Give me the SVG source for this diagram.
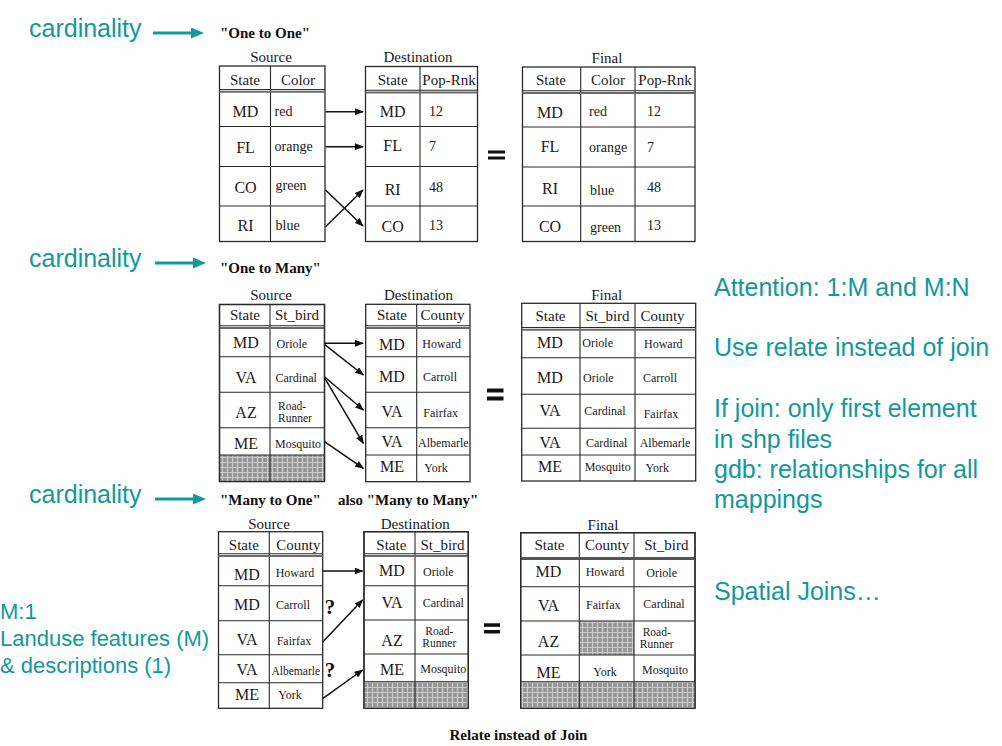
<svg xmlns="http://www.w3.org/2000/svg" width="1002" height="746" viewBox="0 0 1002 746">
<defs>
<style>
.tl{font-family:"Liberation Sans",Arial,sans-serif;fill:#13989c;font-size:25px}
.tls{font-family:"Liberation Sans",Arial,sans-serif;fill:#13989c;font-size:22px}
.sf{font-family:"Liberation Serif","Times New Roman",serif;fill:#1a1a1a}
.tt{font-family:"Liberation Serif","Times New Roman",serif;fill:#111;font-size:15px;font-weight:bold}
.lb{font-size:15px}
.h{font-size:15px}
.c{font-size:16px}
.v{font-size:14px}
.s{font-size:12px}
.r{font-size:11.5px}
.m{text-anchor:middle}
.tb{fill:#fff;stroke:#2a2a2a;stroke-width:1.3}
.ln{stroke:#2a2a2a;stroke-width:1.1;fill:none}
.hd{stroke:#6a6a6a;stroke-width:2;fill:none}
.ht{fill:url(#hatch)}
.ar{stroke:#111;stroke-width:1.5;fill:none;marker-end:url(#ah)}
.ta{stroke:#13989c;stroke-width:3;fill:none;marker-end:url(#tah)}
.eq{fill:#111}
.q{font-family:"Liberation Serif","Times New Roman",serif;fill:#111;font-size:21px;font-weight:bold}
</style>
<marker id="ah" markerWidth="9" markerHeight="7" refX="8" refY="3.5" orient="auto" markerUnits="userSpaceOnUse"><path d="M0,0 L9,3.5 L0,7 z" fill="#111"/></marker>
<marker id="tah" markerWidth="13" markerHeight="11" refX="4" refY="5.5" orient="auto" markerUnits="userSpaceOnUse"><path d="M0,0 L13,5.5 L0,11 z" fill="#13989c"/></marker>
<pattern id="hatch" width="5" height="5" patternUnits="userSpaceOnUse"><rect width="5" height="5" fill="#959595"/><path d="M0,2.5H5M2.5,0V5" stroke="#cbcbcb" stroke-width="1.2"/></pattern>
</defs>
<rect width="1002" height="746" fill="#fff"/>

<g id="notes-left">
<text class="tl" x="29" y="37">cardinality</text>
<text class="tl" x="29" y="267">cardinality</text>
<text class="tl" x="29" y="503">cardinality</text>
<text class="tls" x="0" y="619">M:1</text>
<text class="tls" x="0" y="646">Landuse features (M)</text>
<text class="tls" x="0" y="673">&amp; descriptions (1)</text>
</g>

<g id="notes-right">
<text class="tl" x="714" y="296">Attention: 1:M and M:N</text>
<text class="tl" x="714" y="356">Use relate instead of join</text>
<text class="tl" x="714" y="417">If join: only first element</text>
<text class="tl" x="714" y="448">in shp files</text>
<text class="tl" x="714" y="478">gdb: relationships for all</text>
<text class="tl" x="714" y="508">mappings</text>
<text class="tl" x="714" y="600">Spatial Joins…</text>
</g>

<g id="titles">
<text class="tt" x="220" y="38">"One to One"</text>
<text class="tt" x="220" y="273">"One to Many"</text>
<text class="tt" x="220" y="505">"Many to One"</text>
<text class="tt" x="338" y="505">also "Many to Many"</text>
<text class="tt m" x="518.5" y="740">Relate instead of Join</text>
</g>

<!-- ONE TO ONE -->
<g id="t1-source">
<text class="sf lb m" x="271" y="62">Source</text>
<rect class="tb" x="219.5" y="66" width="105.5" height="175.5"/>
<path class="ln" d="M270.5,66V241.5M219.5,89.5H325M219.5,126.5H325M219.5,166.5H325M219.5,206H325"/>
<path class="hd" d="M219.5,91.8H325"/>
<text class="sf h m" x="245" y="85">State</text>
<text class="sf h m" x="298" y="85">Color</text>
<text class="sf c m" x="245.5" y="117">MD</text>
<text class="sf c m" x="245.5" y="153">FL</text>
<text class="sf c m" x="245.5" y="193">CO</text>
<text class="sf c m" x="245.5" y="231">RI</text>
<text class="sf v" x="274.5" y="115.5">red</text>
<text class="sf v" x="274.5" y="151">orange</text>
<text class="sf v" x="275.5" y="190">green</text>
<text class="sf v" x="275.5" y="230">blue</text>
</g>

<g id="t1-destination">
<text class="sf lb m" x="418" y="62">Destination</text>
<rect class="tb" x="365.5" y="66.5" width="112" height="175"/>
<path class="ln" d="M420,66.5V241.5M365.5,90.3H477.5M365.5,126.5H477.5M365.5,166.5H477.5M365.5,206H477.5"/>
<path class="hd" d="M365.5,92.6H477.5"/>
<text class="sf h m" x="392.7" y="85">State</text>
<text class="sf h m" x="449" y="85">Pop-Rnk</text>
<text class="sf c m" x="392.7" y="117">MD</text>
<text class="sf c m" x="392.7" y="151">FL</text>
<text class="sf c m" x="392.7" y="195">RI</text>
<text class="sf c m" x="392.7" y="232">CO</text>
<text class="sf v" x="429" y="116">12</text>
<text class="sf v" x="429" y="151">7</text>
<text class="sf v" x="429" y="192">48</text>
<text class="sf v" x="429" y="229.5">13</text>
</g>

<g id="t1-final">
<text class="sf lb m" x="607" y="63">Final</text>
<rect class="tb" x="522.5" y="67" width="172.5" height="174.5"/>
<path class="ln" d="M580.7,67V241.5M635,67V241.5M522.5,90.8H695M522.5,127H695M522.5,167H695M522.5,206H695"/>
<path class="hd" d="M522.5,93H695"/>
<text class="sf h m" x="551" y="85">State</text>
<text class="sf h m" x="608" y="85">Color</text>
<text class="sf h m" x="665" y="85">Pop-Rnk</text>
<text class="sf c m" x="550" y="117.5">MD</text>
<text class="sf c m" x="550" y="152">FL</text>
<text class="sf c m" x="550" y="194">RI</text>
<text class="sf c m" x="550" y="232">CO</text>
<text class="sf v" x="589" y="116">red</text>
<text class="sf v" x="589" y="152">orange</text>
<text class="sf v" x="590" y="195">blue</text>
<text class="sf v" x="590" y="232">green</text>
<text class="sf v" x="647" y="116">12</text>
<text class="sf v" x="647" y="152">7</text>
<text class="sf v" x="647" y="192">48</text>
<text class="sf v" x="647" y="230">13</text>
</g>

<!-- ONE TO MANY -->
<g id="t2-source">
<text class="sf lb m" x="271" y="300">Source</text>
<rect class="tb" x="219.5" y="304.5" width="105" height="177"/>
<rect class="ht" x="219.5" y="455" width="105" height="26.5"/>
<path class="ln" d="M270,304.5V481.5M219.5,325.8H324.5M219.5,356.7H324.5M219.5,392.3H324.5M219.5,427.7H324.5M219.5,455H324.5"/>
<path class="hd" d="M219.5,328H324.5"/>
<rect x="219.5" y="304.5" width="105" height="177" fill="none" stroke="#2a2a2a" stroke-width="1.3"/>
<text class="sf h m" x="245" y="320">State</text>
<text class="sf h m" x="297" y="320">St_bird</text>
<text class="sf c m" x="246" y="348">MD</text>
<text class="sf c m" x="246" y="383">VA</text>
<text class="sf c m" x="246" y="418">AZ</text>
<text class="sf c m" x="246" y="449">ME</text>
<text class="sf s" x="276.5" y="348">Oriole</text>
<text class="sf s" x="275.5" y="382">Cardinal</text>
<text class="sf r" x="278" y="410">Road-</text>
<text class="sf r" x="278" y="421.5">Runner</text>
<text class="sf s" x="275" y="447.5">Mosquito</text>
</g>

<g id="t2-destination">
<text class="sf lb m" x="418.5" y="300">Destination</text>
<rect class="tb" x="365.7" y="304.3" width="104.3" height="177.4"/>
<path class="ln" d="M416.7,304.3V481.7M365.7,325.8H470M365.7,356.7H470M365.7,392.3H470M365.7,427.7H470M365.7,455H470"/>
<path class="hd" d="M365.7,328H470"/>
<text class="sf h m" x="392" y="320">State</text>
<text class="sf h m" x="442.5" y="320">County</text>
<text class="sf c m" x="392" y="350">MD</text>
<text class="sf c m" x="392" y="382">MD</text>
<text class="sf c m" x="392" y="417">VA</text>
<text class="sf c m" x="392" y="447">VA</text>
<text class="sf c m" x="392" y="472">ME</text>
<text class="sf s m" x="441.7" y="348">Howard</text>
<text class="sf s m" x="440" y="381">Carroll</text>
<text class="sf s m" x="440.7" y="417">Fairfax</text>
<text class="sf s m" x="443.3" y="447">Albemarle</text>
<text class="sf s m" x="436" y="472">York</text>
</g>

<g id="t2-final">
<text class="sf lb m" x="606.7" y="300">Final</text>
<rect class="tb" x="521.7" y="303.3" width="174" height="177.7"/>
<path class="ln" d="M580,303.3V481M635,303.3V481M521.7,327.5H695.7M521.7,357.7H695.7M521.7,394.3H695.7M521.7,428.3H695.7M521.7,455H695.7"/>
<path class="hd" d="M521.7,329.7H695.7"/>
<text class="sf h m" x="550.5" y="321">State</text>
<text class="sf h m" x="607.5" y="321">St_bird</text>
<text class="sf h m" x="662.5" y="321">County</text>
<text class="sf c m" x="550" y="348">MD</text>
<text class="sf c m" x="550" y="383">MD</text>
<text class="sf c m" x="550" y="416">VA</text>
<text class="sf c m" x="550" y="448">VA</text>
<text class="sf c m" x="550" y="472">ME</text>
<text class="sf s m" x="597.7" y="347">Oriole</text>
<text class="sf s m" x="598.3" y="382">Oriole</text>
<text class="sf s m" x="605" y="415">Cardinal</text>
<text class="sf s m" x="606.7" y="447">Cardinal</text>
<text class="sf s m" x="607.7" y="471">Mosquito</text>
<text class="sf s m" x="663.3" y="348">Howard</text>
<text class="sf s m" x="660" y="382">Carroll</text>
<text class="sf s m" x="661" y="418">Fairfax</text>
<text class="sf s m" x="665" y="447">Albemarle</text>
<text class="sf s m" x="657.3" y="472">York</text>
</g>

<!-- MANY TO ONE -->
<g id="t3-source">
<text class="sf lb m" x="269" y="529">Source</text>
<rect class="tb" x="218.5" y="531.7" width="104.2" height="176.6"/>
<path class="ln" d="M269.3,531.7V708.3M218.5,553.8H322.7M218.5,585.7H322.7M218.5,620.7H322.7M218.5,654.7H322.7M218.5,682.7H322.7"/>
<path class="hd" d="M218.5,556H322.7"/>
<text class="sf h m" x="243.8" y="550">State</text>
<text class="sf h m" x="298.3" y="550">County</text>
<text class="sf c m" x="247" y="580">MD</text>
<text class="sf c m" x="247" y="610">MD</text>
<text class="sf c m" x="247" y="645">VA</text>
<text class="sf c m" x="247" y="675">VA</text>
<text class="sf c m" x="247" y="700">ME</text>
<text class="sf s" x="275.7" y="577">Howard</text>
<text class="sf s" x="276" y="609">Carroll</text>
<text class="sf s" x="276.7" y="645">Fairfax</text>
<text class="sf r" x="271.5" y="675">Albemarle</text>
<text class="sf s" x="278.3" y="699">York</text>
</g>

<g id="t3-destination">
<text class="sf lb m" x="415.3" y="528.5">Destination</text>
<rect class="tb" x="364" y="531.7" width="104.3" height="176.6"/>
<rect class="ht" x="364" y="681.7" width="104.3" height="26.6"/>
<path class="ln" d="M415,531.7V708.3M364,553.8H468.3M364,585.7H468.3M364,620H468.3M364,654H468.3M364,681.7H468.3"/>
<path class="hd" d="M364,556H468.3"/>
<rect x="364" y="531.7" width="104.3" height="176.6" fill="none" stroke="#2a2a2a" stroke-width="1.3"/>
<text class="sf h m" x="391.3" y="549.5">State</text>
<text class="sf h m" x="442.5" y="549.5">St_bird</text>
<text class="sf c m" x="392" y="576">MD</text>
<text class="sf c m" x="392" y="608">VA</text>
<text class="sf c m" x="392" y="646">AZ</text>
<text class="sf c m" x="392" y="675">ME</text>
<text class="sf s m" x="438.3" y="576">Oriole</text>
<text class="sf s m" x="443.3" y="607">Cardinal</text>
<text class="sf r m" x="439.3" y="635">Road-</text>
<text class="sf r m" x="439.3" y="646.7">Runner</text>
<text class="sf s m" x="443.3" y="673">Mosquito</text>
</g>

<g id="t3-final">
<text class="sf lb m" x="603" y="530">Final</text>
<rect class="tb" x="520.7" y="532.7" width="174.3" height="175.6"/>
<rect class="ht" x="579.3" y="621" width="54.7" height="34"/>
<rect class="ht" x="520.7" y="681.7" width="174.3" height="26.6"/>
<path class="ln" d="M579.3,532.7V708.3M634,532.7V708.3M520.7,586.7H695M520.7,621H695M520.7,655H695M520.7,681.7H695"/>
<path d="M520.7,558.5H695" stroke="#555" stroke-width="3" fill="none"/>
<rect x="520.7" y="532.7" width="174.3" height="175.6" fill="none" stroke="#2a2a2a" stroke-width="1.3"/>
<text class="sf h m" x="549.5" y="550">State</text>
<text class="sf h m" x="607.2" y="550">County</text>
<text class="sf h m" x="666.3" y="550">St_bird</text>
<text class="sf c m" x="548.5" y="577">MD</text>
<text class="sf c m" x="548.5" y="611">VA</text>
<text class="sf c m" x="548.5" y="647">AZ</text>
<text class="sf c m" x="548.5" y="678">ME</text>
<text class="sf s m" x="605" y="576">Howard</text>
<text class="sf s m" x="603.3" y="609">Fairfax</text>
<text class="sf s m" x="605" y="676">York</text>
<text class="sf s m" x="661.7" y="577">Oriole</text>
<text class="sf s m" x="664" y="608">Cardinal</text>
<text class="sf r m" x="656.7" y="636">Road-</text>
<text class="sf r m" x="656.7" y="647.5">Runner</text>
<text class="sf s m" x="665" y="674">Mosquito</text>
</g>

<g id="equals">
<rect class="eq" x="488" y="150.5" width="17" height="3"/>
<rect class="eq" x="488" y="156.5" width="17" height="3"/>
<rect class="eq" x="487" y="388.5" width="16.5" height="4"/>
<rect class="eq" x="487" y="396.5" width="16.5" height="4"/>
<rect class="eq" x="484" y="623.3" width="16" height="3.5"/>
<rect class="eq" x="484" y="630" width="16" height="3.5"/>
</g>

<g id="question-marks">
<text class="q m" x="330" y="614">?</text>
<text class="q m" x="330" y="677">?</text>
</g>

<g id="connectors">
<line class="ta" x1="153" y1="33" x2="195" y2="33"/>
<line class="ta" x1="155" y1="263" x2="197" y2="263"/>
<line class="ta" x1="155" y1="499" x2="197" y2="499"/>
<line class="ar" x1="325.5" y1="111.7" x2="363" y2="111.7"/>
<line class="ar" x1="325.5" y1="146.7" x2="363" y2="146.7"/>
<line class="ar" x1="325.5" y1="190" x2="363" y2="226"/>
<line class="ar" x1="325.5" y1="226.7" x2="363" y2="190"/>
<line class="ar" x1="324.5" y1="343.3" x2="363" y2="343.3"/>
<line class="ar" x1="324.5" y1="344.3" x2="363.3" y2="375"/>
<line class="ar" x1="324.5" y1="376.7" x2="363.3" y2="410"/>
<line class="ar" x1="324.5" y1="377.7" x2="363.3" y2="443.3"/>
<line class="ar" x1="324.5" y1="441.7" x2="363.3" y2="468.3"/>
<line class="ar" x1="323" y1="571" x2="362.5" y2="571"/>
<line class="ar" x1="323" y1="641.7" x2="362.5" y2="600"/>
<line class="ar" x1="323" y1="698.3" x2="362.5" y2="670"/>
</g>
</svg>
